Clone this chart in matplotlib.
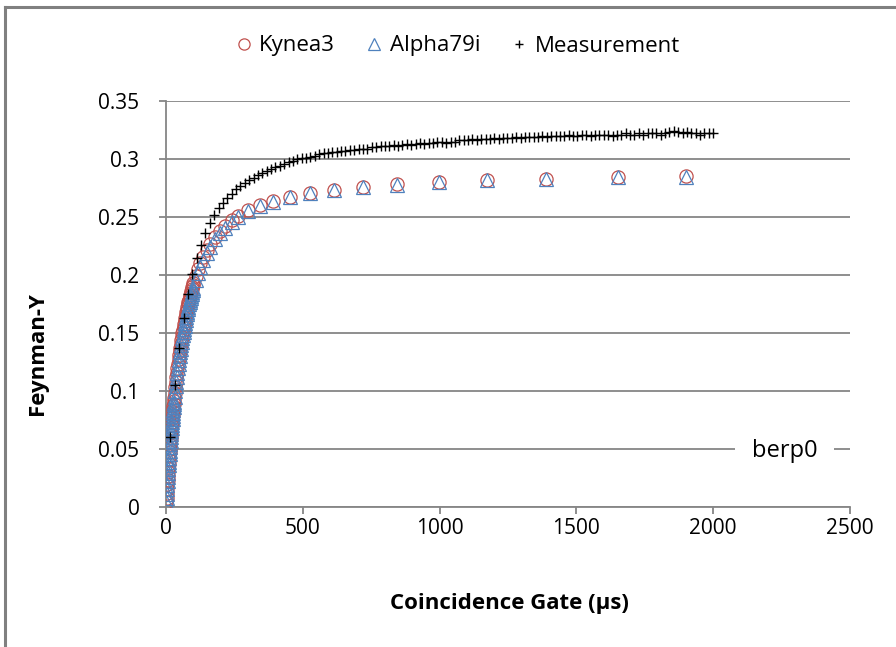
import matplotlib
matplotlib.use("Agg")
import matplotlib.pyplot as plt
from matplotlib.lines import Line2D
import numpy as np

plt.rcParams['font.family'] = ['Open Sans', 'DejaVu Sans']

# ---- data ----
model_gate = (list(range(1, 31)) + list(range(32, 101, 2)) +
              [108, 117, 126, 136, 149, 161, 179, 197, 216, 240, 264, 301,
               344, 392, 453, 526, 614, 719, 843, 998, 1173, 1389, 1652, 1900])

kynea3 = [0.0040, 0.0080, 0.0119, 0.0157, 0.0194, 0.0231, 0.0267, 0.0302, 0.0337, 0.0371,
          0.0405, 0.0438, 0.0470, 0.0502, 0.0533, 0.0564, 0.0594, 0.0623, 0.0652, 0.0681,
          0.0709, 0.0736, 0.0763, 0.0790, 0.0816, 0.0842, 0.0867, 0.0892, 0.0916, 0.0940,
          0.0986, 0.1031, 0.1075, 0.1117, 0.1158, 0.1197, 0.1235, 0.1272, 0.1307, 0.1342,
          0.1375, 0.1408, 0.1439, 0.1469, 0.1498, 0.1527, 0.1554, 0.1581, 0.1607, 0.1632,
          0.1656, 0.1680, 0.1702, 0.1725, 0.1746, 0.1767, 0.1787, 0.1807, 0.1826, 0.1845,
          0.1863, 0.1881, 0.1898, 0.1914, 0.1931,
          0.1991, 0.2052, 0.2106, 0.2159, 0.2219, 0.2268, 0.2329, 0.2380, 0.2426, 0.2473,
          0.2512, 0.2561, 0.2604, 0.2640, 0.2676, 0.2708, 0.2736, 0.2761, 0.2782, 0.2801,
          0.2817, 0.2830, 0.2842, 0.2850]

alpha79i = [0.0039, 0.0077, 0.0115, 0.0151, 0.0187, 0.0223, 0.0258, 0.0291, 0.0325, 0.0358,
            0.0391, 0.0423, 0.0454, 0.0484, 0.0514, 0.0544, 0.0573, 0.0601, 0.0629, 0.0657,
            0.0684, 0.0710, 0.0736, 0.0762, 0.0787, 0.0813, 0.0837, 0.0861, 0.0884, 0.0907,
            0.0952, 0.0996, 0.1039, 0.1080, 0.1120, 0.1158, 0.1195, 0.1231, 0.1266, 0.1300,
            0.1333, 0.1365, 0.1396, 0.1426, 0.1455, 0.1483, 0.1511, 0.1538, 0.1564, 0.1589,
            0.1613, 0.1637, 0.1660, 0.1683, 0.1705, 0.1726, 0.1746, 0.1766, 0.1785, 0.1804,
            0.1822, 0.1840, 0.1857, 0.1874, 0.1891,
            0.1953, 0.2016, 0.2073, 0.2128, 0.2191, 0.2243, 0.2307, 0.2361, 0.2409, 0.2459,
            0.2500, 0.2551, 0.2596, 0.2633, 0.2670, 0.2703, 0.2732, 0.2758, 0.2780, 0.2799,
            0.2815, 0.2829, 0.2841, 0.2849]

meas_gate = list(range(16, 2001, 16))
measurement = [0.060, 0.105, 0.137, 0.163, 0.184, 0.201, 0.215, 0.226, 0.236, 0.245,
               0.252, 0.258, 0.262, 0.266, 0.270, 0.274, 0.277, 0.279, 0.282, 0.284,
               0.286, 0.288, 0.290, 0.291, 0.293, 0.294, 0.296, 0.297, 0.298, 0.300,
               0.301, 0.301, 0.302, 0.303, 0.304, 0.305, 0.305, 0.306, 0.306, 0.307,
               0.307, 0.308, 0.308, 0.309, 0.309, 0.309, 0.310, 0.310, 0.311, 0.311,
               0.311, 0.312, 0.311, 0.312, 0.313, 0.312, 0.313, 0.314, 0.313, 0.314,
               0.314, 0.315, 0.315, 0.314, 0.315, 0.315, 0.316, 0.316, 0.316, 0.317,
               0.316, 0.317, 0.317, 0.317, 0.318, 0.317, 0.318, 0.318, 0.318, 0.319,
               0.318, 0.319, 0.319, 0.319, 0.319, 0.320, 0.319, 0.320, 0.320, 0.320,
               0.320, 0.321, 0.320, 0.320, 0.321, 0.321, 0.320, 0.321, 0.321, 0.321,
               0.321, 0.320, 0.321, 0.321, 0.322, 0.321, 0.321, 0.322, 0.321, 0.322,
               0.322, 0.322, 0.321, 0.322, 0.323, 0.324, 0.323, 0.322, 0.323, 0.322,
               0.322, 0.321, 0.322, 0.322, 0.322]

x_ticks = [0, 500, 1000, 1500, 2000, 2500]
y_ticks = [0, 0.05, 0.1, 0.15, 0.2, 0.25, 0.3, 0.35]
y_ticklabels = ["0", "0.05", "0.1", "0.15", "0.2", "0.25", "0.3", "0.35"]

# ---- figure ----
W, H = 896, 647
fig = plt.figure(figsize=(W/100, H/100), dpi=100)
ax = fig.add_axes([166/W, 1-507/H, (850-166)/W, (507-101)/H])

red = "#C0504D"
blue = "#4F81BD"
grid_c = "#868686"

ax.plot(model_gate, kynea3, linestyle="none", marker="o", markersize=9.5,
        markerfacecolor="none", markeredgecolor=red, markeredgewidth=0.9,
        label="Kynea3", zorder=3)
ax.plot(model_gate, alpha79i, linestyle="none", marker="^", markersize=9.5,
        markerfacecolor="none", markeredgecolor=blue, markeredgewidth=0.9,
        label="Alpha79i", zorder=4)
ax.plot(meas_gate, measurement, linestyle="none", marker="+", markersize=7.5,
        markeredgecolor="black", markeredgewidth=1.0, label="Measurement", zorder=5)

ax.set_xlim(0, 2500)
ax.set_ylim(0, 0.35)
ax.set_xticks(x_ticks)
ax.set_yticks(y_ticks)
ax.set_yticklabels(y_ticklabels)

ax.yaxis.grid(True, color=grid_c, linewidth=1.3)
ax.set_axisbelow(True)
for s in ["top", "right"]:
    ax.spines[s].set_visible(False)
for s in ["left", "bottom"]:
    ax.spines[s].set_color(grid_c)
    ax.spines[s].set_linewidth(1.3)
ax.tick_params(axis="both", direction="out", length=5, width=1.3, color=grid_c,
               labelsize=15, labelcolor="#000000")
ax.tick_params(axis="y", pad=14)
ax.tick_params(axis="x", pad=3)

fig.text(509/W, 1-603/H, "Coincidence Gate (µs)", fontsize=16, fontweight="bold",
         ha="center", va="center")
fig.text(38/W, 1-354/H, "Feynman-Y", fontsize=16, fontweight="bold",
         ha="center", va="center", rotation=90)

ax.text(0.904, 0.138, "berp0", transform=ax.transAxes, fontsize=17,
        ha="center", va="center", zorder=6,
        bbox=dict(facecolor="white", edgecolor="none", pad=12))

leg = ax.legend(loc="center", bbox_to_anchor=(454/W, 1 - 46/H), bbox_transform=fig.transFigure,
                ncol=3, frameon=False, fontsize=16, handletextpad=0.0, columnspacing=1.05,
                handlelength=1.4, markerscale=0.85)

# outer chart border (top and left visible)
fig.add_artist(Line2D([5/W, 1.0], [1-7/H, 1-7/H], color="#808080", linewidth=2.2,
                      transform=fig.transFigure))
fig.add_artist(Line2D([5/W, 5/W], [0, 1-7/H], color="#808080", linewidth=2.2,
                      transform=fig.transFigure))

fig.savefig("out.png", dpi=100)
